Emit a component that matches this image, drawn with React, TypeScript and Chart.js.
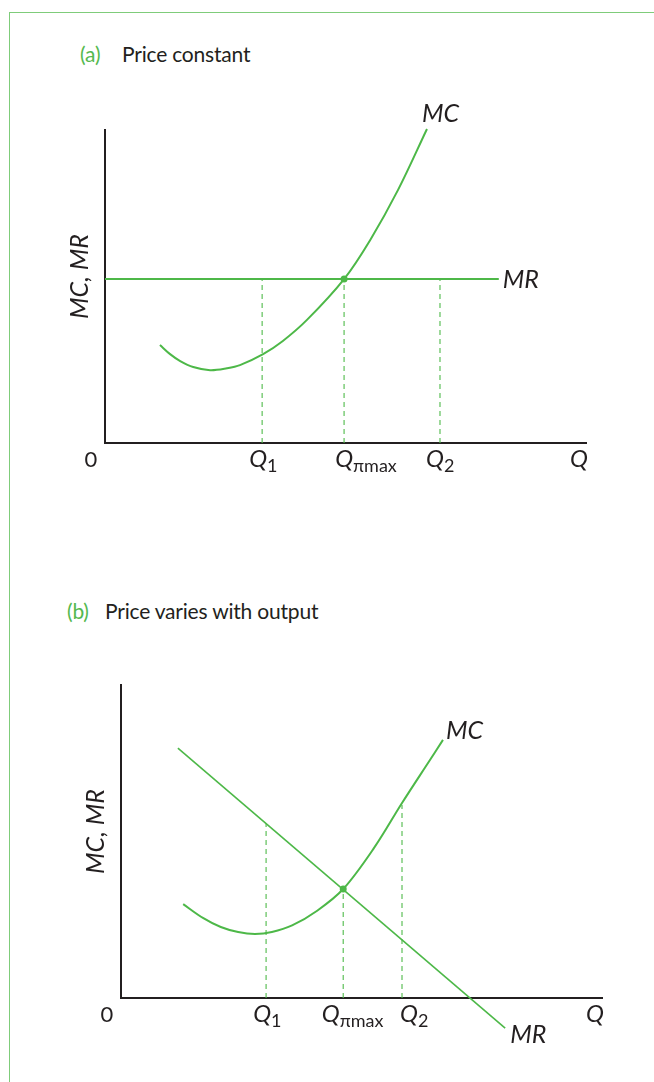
import React, { useEffect, useRef } from "react";
import { Chart, registerables } from "chart.js";

Chart.register(...registerables);

// ---------- colours ----------
const GREEN = "#4db848";
const DASH_GREEN = "#4fba4a";
const INK = "#231f20";
const FRAME = "#7fcc7a";

// ---------- panel (a): price constant ----------
const A_MC_X = [1.14, 1.35, 1.56, 1.83, 2.18, 2.53, 2.8, 3.28, 3.69, 4.19, 4.96, 5.5, 6.08, 6.68];
const A_MC_Y = [3.12, 2.83, 2.61, 2.42, 2.32, 2.38, 2.48, 2.83, 3.25, 3.92, 5.22, 6.46, 8.06, 10.0];
const A_MR_X = [0, 8.17];
const A_MR_Y = [5.22, 5.22];
const A_Q_VALUES = [3.26, 4.96, 6.95]; // Q1, Qπmax, Q2
const A_Q_TOPS = [5.22, 5.22, 5.22];
const A_EQ = [4.96, 5.22];

// ---------- panel (b): price varies with output ----------
const B_MC_X = [1.29, 1.7, 2.07, 2.43, 2.78, 3.13, 3.55, 4.07, 4.61, 5.25, 5.83, 6.41, 6.68];
const B_MC_Y = [2.99, 2.55, 2.26, 2.1, 2.04, 2.1, 2.31, 2.78, 3.47, 4.78, 6.21, 7.58, 8.22];
const B_MR_X = [1.18, 7.97];
const B_MR_Y = [7.96, -0.96];
const B_Q_VALUES = [3.01, 4.61, 5.83]; // Q1, Qπmax, Q2
const B_Q_TOPS = [5.56, 3.47, 6.15];
const B_EQ = [4.61, 3.47];

// ---------- text ----------
const Q_MAIN = ["Q", "Q", "Q"];
const Q_SUBS = ["1", "πmax", "2"];
const AXIS_END_LABEL = "Q";
const ORIGIN_LABEL = "0";
const Y_TITLE = "MC, MR";
const MC_LABEL = "MC";
const MR_LABEL = "MR";
const TITLE_A = ["(a)", "Price constant"];
const TITLE_B = ["(b)", "Price varies with output"];

const FONT = "Lato, 'Noto Sans', 'DejaVu Sans', sans-serif";

const pts = (xs: number[], ys: number[]) => xs.map((x, i) => ({ x, y: ys[i] }));

const econPlugin = {
  id: "econ",
  beforeDatasetsDraw(chart: any) {
    const { ctx } = chart;
    const xs = chart.scales.x;
    const ys = chart.scales.y;
    const x0 = xs.getPixelForValue(0);
    const y0 = ys.getPixelForValue(0);
    const xEnd = xs.getPixelForValue(xs.max);
    const yTop = ys.getPixelForValue(ys.max);
    ctx.save();
    ctx.strokeStyle = INK;
    ctx.lineWidth = 2;
    ctx.lineCap = "butt";
    ctx.beginPath();
    ctx.moveTo(x0, yTop);
    ctx.lineTo(x0, y0);
    ctx.lineTo(xEnd, y0);
    ctx.stroke();
    ctx.restore();
  },
  afterDraw(chart: any, _args: any, o: any) {
    const { ctx } = chart;
    const xs = chart.scales.x;
    const ys = chart.scales.y;
    const x0 = xs.getPixelForValue(0);
    const y0 = ys.getPixelForValue(0);
    const xEnd = xs.getPixelForValue(xs.max);
    ctx.save();
    ctx.fillStyle = INK;
    ctx.textBaseline = "alphabetic";
    const base = y0 + 24;

    // origin
    ctx.font = `22px ${FONT}`;
    ctx.textAlign = "center";
    ctx.fillText(ORIGIN_LABEL, x0 - 14, base - 0.5);

    // Q tick labels
    o.qValues.forEach((q: number, i: number) => {
      ctx.font = `italic 24px ${FONT}`;
      const w = ctx.measureText(Q_MAIN[i]).width;
      const cx = xs.getPixelForValue(q) + o.qDx[i];
      ctx.textAlign = "center";
      ctx.fillText(Q_MAIN[i], cx, base);
      ctx.font = `18px ${FONT}`;
      ctx.textAlign = "left";
      ctx.fillText(Q_SUBS[i], cx + w / 2, base + 5);
    });

    // axis end label
    ctx.font = `italic 24px ${FONT}`;
    ctx.textAlign = "right";
    ctx.fillText(AXIS_END_LABEL, xEnd + 1, base);

    // curve labels
    const mc = chart.getDatasetMeta(0).data;
    const mcEnd = mc[mc.length - 1];
    const mr = chart.getDatasetMeta(1).data;
    const mrEnd = mr[mr.length - 1];
    ctx.font = `italic 25px ${FONT}`;
    ctx.textAlign = "left";
    ctx.fillText(MC_LABEL, mcEnd.x + o.mcDx, mcEnd.y + o.mcDy);
    ctx.fillText(MR_LABEL, mrEnd.x + o.mrDx, mrEnd.y + o.mrDy);

    // y title
    ctx.save();
    ctx.translate(x0 - 25, ys.getPixelForValue(o.yTitleAt));
    ctx.rotate(-Math.PI / 2);
    ctx.textAlign = "center";
    ctx.textBaseline = "middle";
    ctx.font = `italic 25px ${FONT}`;
    ctx.fillText(Y_TITLE, 0, 0);
    ctx.restore();

    ctx.restore();
  },
};

function buildConfig(p: {
  mcX: number[];
  mcY: number[];
  mrX: number[];
  mrY: number[];
  qs: number[];
  tops: number[];
  eq: number[];
  padding: { left: number; top: number; right: number; bottom: number };
  labels: any;
  mrWidth: number;
}) {
  const dashSets = p.qs.map((q, i) => ({
    data: [
      { x: q, y: 0 },
      { x: q, y: p.tops[i] },
    ],
    showLine: true,
    borderColor: DASH_GREEN,
    borderWidth: 1.1,
    borderDash: [5, 4],
    pointRadius: 0,
    clip: false as any,
  }));
  return {
    type: "scatter" as const,
    data: {
      datasets: [
        {
          data: pts(p.mcX, p.mcY),
          showLine: true,
          borderColor: GREEN,
          borderWidth: 2,
          tension: 0.35,
          pointRadius: 0,
          clip: false as any,
        },
        {
          data: pts(p.mrX, p.mrY),
          showLine: true,
          borderColor: GREEN,
          borderWidth: p.mrWidth,
          pointRadius: 0,
          clip: false as any,
        },
        {
          data: [{ x: p.eq[0], y: p.eq[1] }],
          showLine: false,
          pointRadius: 3.5,
          pointBackgroundColor: GREEN,
          pointBorderWidth: 0,
          clip: false as any,
        },
        ...dashSets,
      ],
    },
    options: {
      responsive: false,
      animation: false,
      devicePixelRatio: 1,
      events: [],
      layout: { padding: p.padding },
      scales: {
        x: { type: "linear", min: 0, max: 10, display: false },
        y: { type: "linear", min: 0, max: 10, display: false },
      },
      plugins: {
        legend: { display: false },
        tooltip: { enabled: false },
        econ: p.labels,
      },
    },
    plugins: [econPlugin],
  };
}

function Panel({ top, height, config }: { top: number; height: number; config: any }) {
  const ref = useRef<HTMLCanvasElement>(null);
  useEffect(() => {
    if (!ref.current) return;
    const chart = new Chart(ref.current, config);
    return () => chart.destroy();
  }, []);
  return (
    <canvas
      ref={ref}
      width={654}
      height={height}
      style={{ position: "absolute", left: 0, top, width: 654, height }}
    />
  );
}

function Title({ top, left, parts }: { top: number; left: number[]; parts: string[] }) {
  const base: React.CSSProperties = {
    position: "absolute",
    top,
    fontFamily: FONT,
    fontSize: 21,
    lineHeight: "21px",
    letterSpacing: "-0.2px",
    whiteSpace: "nowrap",
  };
  return (
    <>
      <span style={{ ...base, left: left[0], color: "#55b94f" }}>{parts[0]}</span>
      <span style={{ ...base, left: left[1], color: INK }}>{parts[1]}</span>
    </>
  );
}

export default function App() {
  const configA = buildConfig({
    mcX: A_MC_X,
    mcY: A_MC_Y,
    mrX: A_MR_X,
    mrY: A_MR_Y,
    qs: A_Q_VALUES,
    tops: A_Q_TOPS,
    eq: A_EQ,
    padding: { left: 105, top: 129, right: 67, bottom: 97 },
    mrWidth: 2,
    labels: {
      qValues: A_Q_VALUES,
      qDx: [-4, 0, -5],
      mcDx: -5,
      mcDy: -7,
      mrDx: 4,
      mrDy: 9,
      yTitleAt: 5.3,
    },
  });
  const configB = buildConfig({
    mcX: B_MC_X,
    mcY: B_MC_Y,
    mrX: B_MR_X,
    mrY: B_MR_Y,
    qs: B_Q_VALUES,
    tops: B_Q_TOPS,
    eq: B_EQ,
    padding: { left: 121, top: 144, right: 51, bottom: 84 },
    mrWidth: 1.6,
    labels: {
      qValues: B_Q_VALUES,
      qDx: [-4, -12.5, 7],
      mcDx: 3,
      mcDy: -1,
      mrDx: 5,
      mrDy: 15,
      yTitleAt: 5.3,
    },
  });
  return (
    <div style={{ position: "absolute", left: 0, top: 0, width: 654, height: 1082, background: "#fff", overflow: "hidden" }}>
      <div
        style={{
          position: "absolute",
          left: 9,
          top: 12,
          width: 645,
          height: 1070,
          borderTop: `1px solid ${FRAME}`,
          borderLeft: `1px solid ${FRAME}`,
        }}
      />
      <Title top={43} left={[80, 122]} parts={TITLE_A} />
      <Title top={600} left={[67, 105]} parts={TITLE_B} />
      <Panel top={0} height={540} config={configA} />
      <Panel top={540} height={542} config={configB} />
    </div>
  );
}
